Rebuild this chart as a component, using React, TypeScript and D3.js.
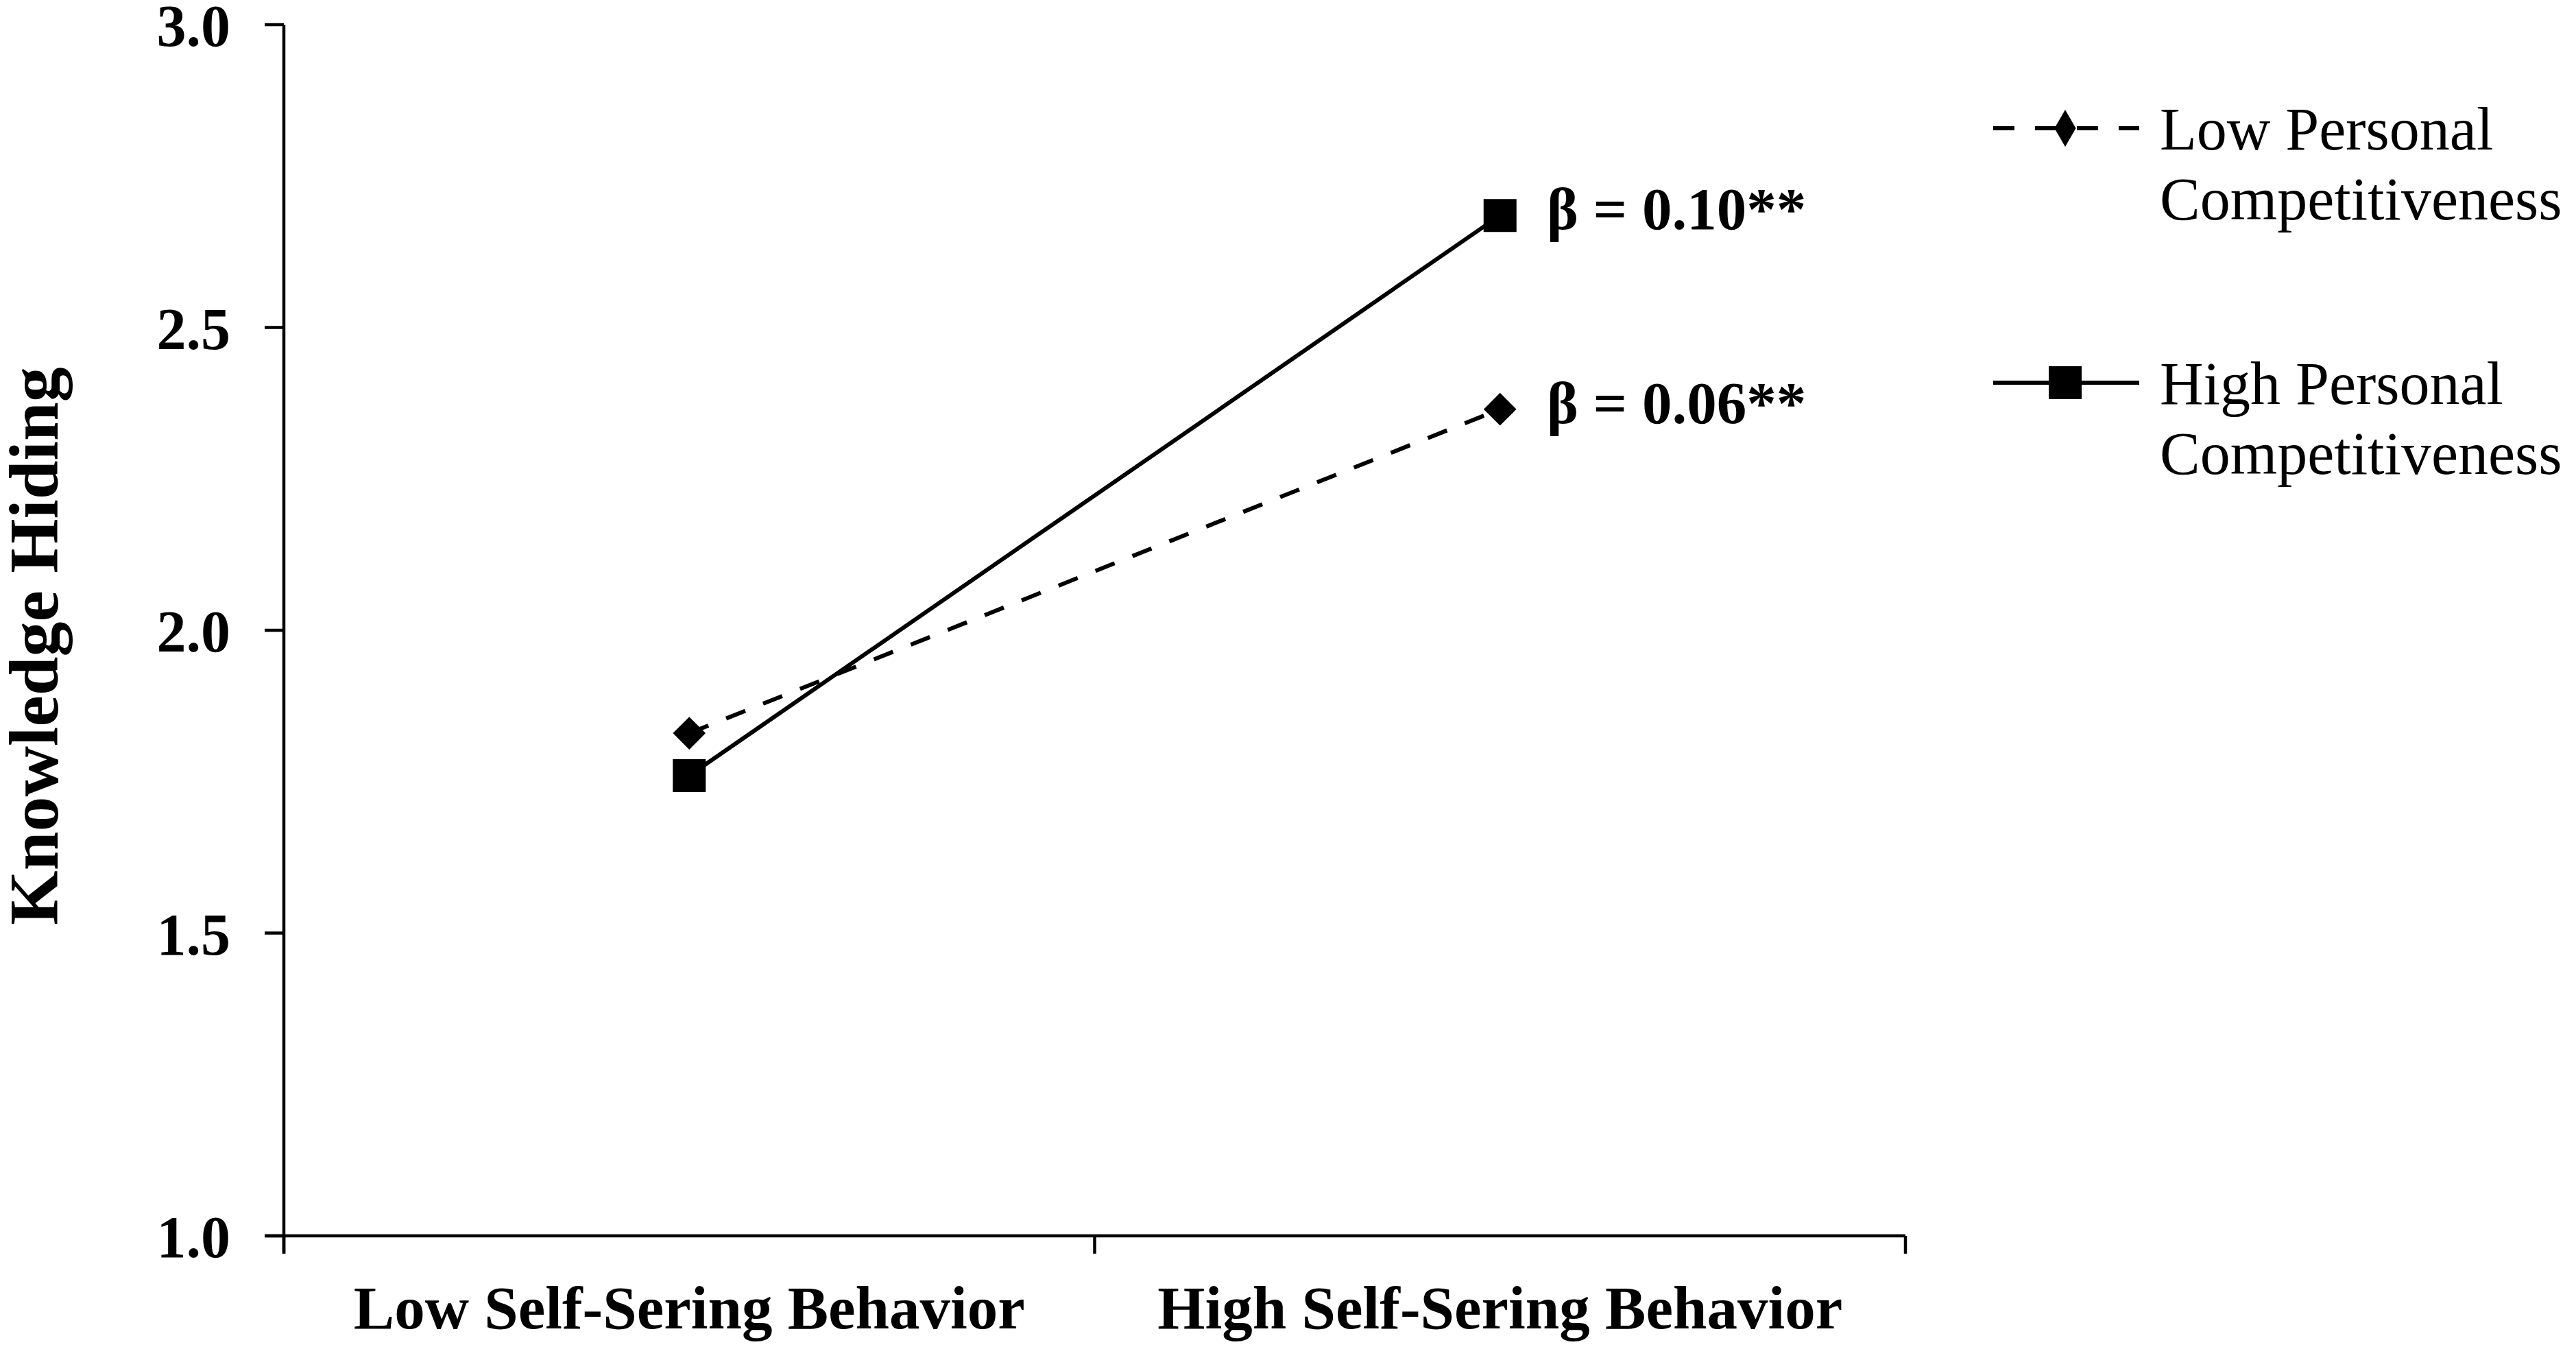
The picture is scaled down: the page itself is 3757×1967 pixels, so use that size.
import React from "react";
import * as d3 from "d3";

const categories = ["Low Self-Sering Behavior", "High Self-Sering Behavior"];
const seriesNames = ["Low Personal Competitiveness", "High Personal Competitiveness"];
const lowCompValues = [1.83, 2.365];
const highCompValues = [1.76, 2.685];
const betaLabels = ["β = 0.06**", "β = 0.10**"];
const yTicks = [1.0, 1.5, 2.0, 2.5, 3.0];
const yLabel = "Knowledge Hiding";

const W = 3757;
const H = 1967;
const FONT = "'Liberation Serif', 'Times New Roman', Times, serif";

export default function App() {
  const left = 414;
  const right = 2779;
  const top = 36;
  const bottom = 1802;

  const x = d3.scaleBand<string>().domain(categories).range([left, right]).paddingInner(0).paddingOuter(0);
  const y = d3.scaleLinear().domain([1, 3]).range([bottom, top]);
  const cx = (c: string) => (x(c) as number) + x.bandwidth() / 2;

  const line = d3
    .line<number>()
    .x((_, i) => cx(categories[i]))
    .y((v) => y(v));

  const square = d3.symbol(d3.symbolSquare, 48 * 48)();
  const diamond = d3.symbol(d3.symbolDiamond2, 1450)();
  const legendDiamond = d3.symbol(d3.symbolDiamond, 840)();

  const series = [
    { name: seriesNames[0], values: lowCompValues, dash: "30 28", marker: diamond, legendMarker: legendDiamond, beta: betaLabels[0] },
    { name: seriesNames[1], values: highCompValues, dash: undefined as string | undefined, marker: square, legendMarker: square, beta: betaLabels[1] },
  ];

  const xTickPositions = [left, left + x.bandwidth(), right];
  const legendX0 = 2907;
  const legendX1 = 3120;
  const legendMid = 3012;
  const legendText = 3150;
  const legendY = [187, 558];

  return (
    <svg
      width={W}
      height={H}
      viewBox={`0 0 ${W} ${H}`}
      style={{ position: "absolute", left: 0, top: 0, display: "block", background: "#fff" }}
    >
      <rect x={0} y={0} width={W} height={H} fill="#fff" />
      {/* y axis */}
      <line x1={left} x2={left} y1={top} y2={bottom + 26} stroke="#000" strokeWidth={4.5} />
      {yTicks.map((t) => (
        <g key={t}>
          <line x1={left - 28} x2={left} y1={y(t)} y2={y(t)} stroke="#000" strokeWidth={4.5} />
          <text
            x={336}
            y={y(t) + 31}
            textAnchor="end"
            fontFamily={FONT}
            fontWeight="bold"
            fontSize={86}
            fill="#000"
          >
            {t.toFixed(1)}
          </text>
        </g>
      ))}
      {/* x axis */}
      <line x1={left - 28} x2={right} y1={bottom} y2={bottom} stroke="#000" strokeWidth={4.5} />
      {xTickPositions.map((p, i) => (
        <line key={i} x1={p} x2={p} y1={bottom} y2={bottom + 26} stroke="#000" strokeWidth={4.5} />
      ))}
      {categories.map((c) => (
        <text
          key={c}
          x={cx(c)}
          y={1937}
          textAnchor="middle"
          fontFamily={FONT}
          fontWeight="bold"
          fontSize={89}
          fill="#000"
        >
          {c}
        </text>
      ))}
      {/* y label */}
      <text
        transform={`translate(84, ${(top + bottom) / 2 + 23}) rotate(-90)`}
        textAnchor="middle"
        fontFamily={FONT}
        fontWeight="bold"
        fontSize={102}
        fill="#000"
      >
        {yLabel}
      </text>
      {/* series */}
      {series.map((s) => (
        <g key={s.name}>
          <path d={line(s.values) as string} fill="none" stroke="#000" strokeWidth={6} strokeDasharray={s.dash} />
          {s.values.map((v, i) => (
            <path key={i} d={s.marker as string} transform={`translate(${cx(categories[i])}, ${y(v)})`} fill="#000" />
          ))}
          <text
            x={2256}
            y={y(s.values[1]) + 20}
            fontFamily={FONT}
            fontWeight="bold"
            fontSize={87}
            fill="#000"
          >
            {s.beta}
          </text>
        </g>
      ))}
      {/* legend */}
      {series.map((s, k) => {
        const words = s.name.split(" ");
        const first = words.slice(0, 2).join(" ");
        const second = words.slice(2).join(" ");
        return (
          <g key={s.name}>
            <line
              x1={legendX0}
              x2={legendX1}
              y1={legendY[k]}
              y2={legendY[k]}
              stroke="#000"
              strokeWidth={6}
              strokeDasharray={s.dash ? "31 30" : undefined}
            />
            <path d={s.legendMarker as string} transform={`translate(${legendMid}, ${legendY[k]})`} fill="#000" />
            <text x={legendText} y={legendY[k] + 31} fontFamily={FONT} fontSize={88} fill="#000">
              {first}
            </text>
            <text x={legendText} y={legendY[k] + 133} fontFamily={FONT} fontSize={88} fill="#000">
              {second}
            </text>
          </g>
        );
      })}
    </svg>
  );
}
